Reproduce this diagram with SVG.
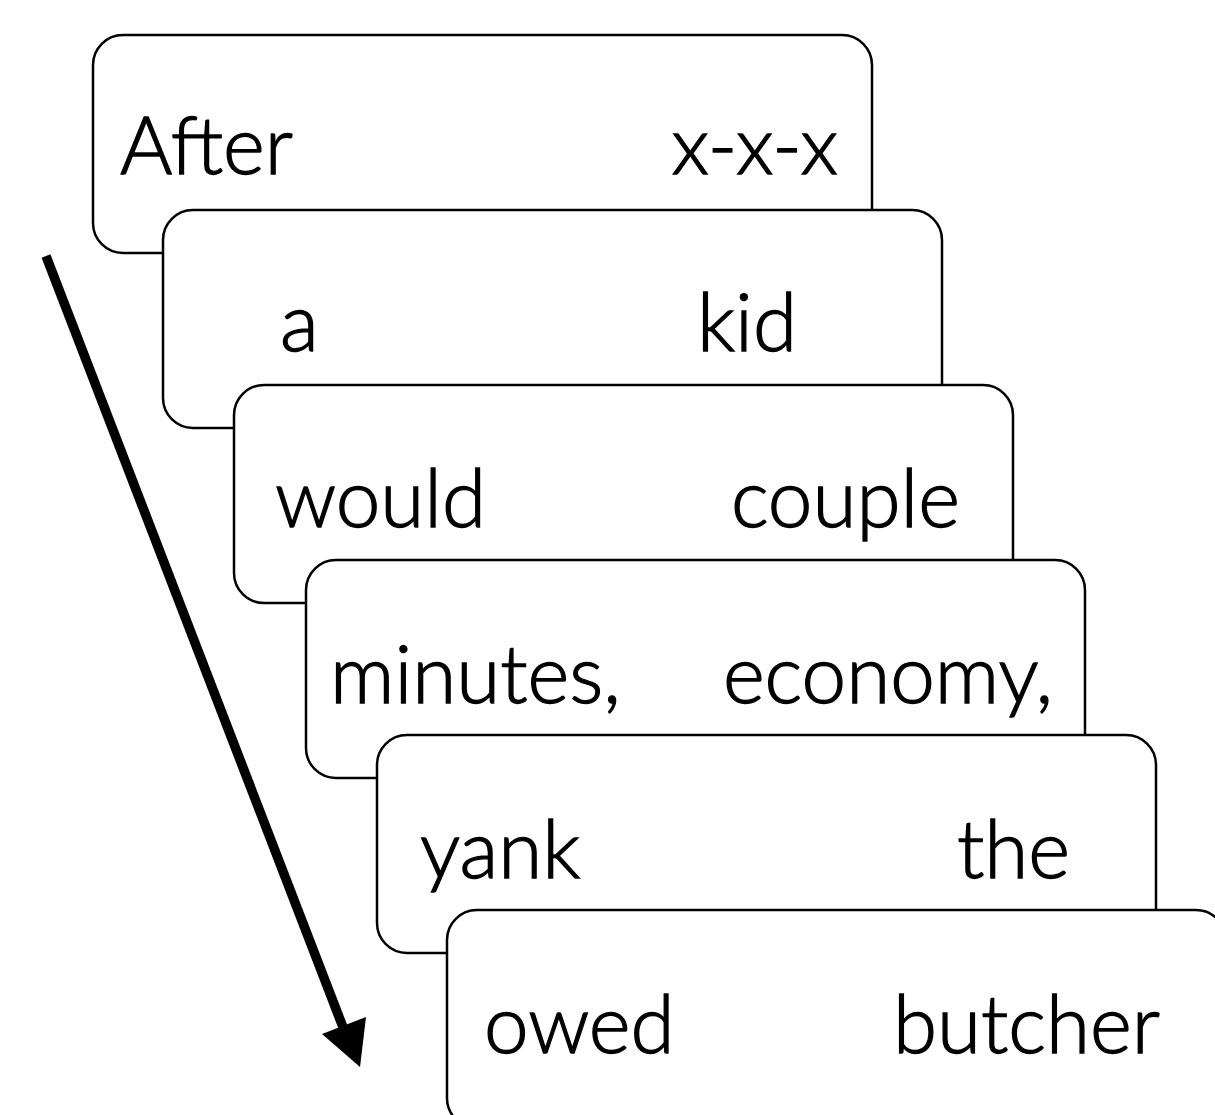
<svg xmlns="http://www.w3.org/2000/svg" width="1215" height="1115" viewBox="0 0 1215 1115">
  <style>
    .card { fill: #ffffff; stroke: #000000; stroke-width: 2.5; }
    .word { font-family: "Lato", "Noto Sans", "Liberation Sans", sans-serif; font-weight: 300; font-size: 80px; fill: #000000; stroke: #000000; stroke-width: 1.3; }
    .end { text-anchor: end; }
  </style>
  <rect width="1215" height="1115" fill="#ffffff"/>

  <!-- time arrow -->
  <g id="connectors">
    <line x1="46" y1="256" x2="346" y2="1035" stroke="#000000" stroke-width="9.5"/>
    <polygon points="322,1034 366,1017 360,1067" fill="#000000"/>
  </g>

  <g id="card1">
    <rect class="card" x="93" y="35" width="779" height="218" rx="30"/>
    <text class="word" x="120" y="174">After</text>
    <text class="word end" x="838" y="174">x-x-x</text>
  </g>
  <g id="card2">
    <rect class="card" x="163" y="210" width="779" height="218" rx="30"/>
    <text class="word" x="280" y="351">a</text>
    <text class="word end" x="797" y="351">kid</text>
  </g>
  <g id="card3">
    <rect class="card" x="234" y="385" width="779" height="218" rx="30"/>
    <text class="word" x="275" y="527">would</text>
    <text class="word end" x="960" y="527">couple</text>
  </g>
  <g id="card4">
    <rect class="card" x="306" y="560" width="779" height="218" rx="30"/>
    <text class="word" x="330" y="703">minutes,</text>
    <text class="word end" x="1053" y="703">economy,</text>
  </g>
  <g id="card5">
    <rect class="card" x="377" y="735" width="779" height="218" rx="30"/>
    <text class="word" x="420" y="878">yank</text>
    <text class="word end" x="1070" y="878">the</text>
  </g>
  <g id="card6">
    <rect class="card" x="447" y="910" width="779" height="218" rx="30"/>
    <text class="word" x="484" y="1053">owed</text>
    <text class="word end" x="1160" y="1053">butcher</text>
  </g>
</svg>
